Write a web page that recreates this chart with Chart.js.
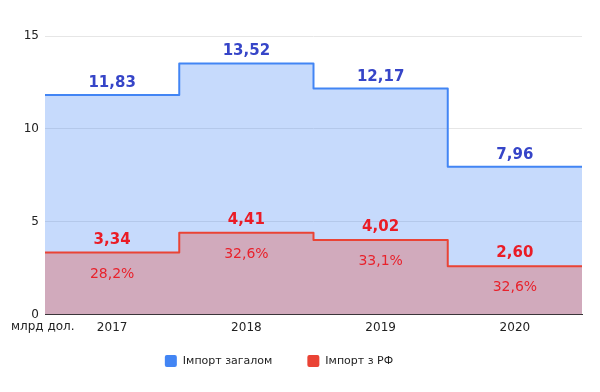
<!DOCTYPE html>
<html><head><meta charset="utf-8">
<script src="https://cdn.jsdelivr.net/npm/chart.js@4.4.0/dist/chart.umd.min.js"></script>
<style>html,body{margin:0;padding:0;background:#fff;}#wrap{width:600px;height:392px;}</style>
</head><body><div id="wrap"><canvas id="c" width="600" height="392"></canvas></div>
<script>
const years = ['2017', '2018', '2019', '2020'];
const importTotal = [11.83, 13.52, 12.17, 7.96];
const importRF = [3.34, 4.41, 4.02, 2.60];
const shareRF = ['28,2%', '32,6%', '33,1%', '32,6%'];
const yTicks = [0, 5, 10, 15];
const unitLabel = 'млрд дол.';
const seriesNames = ['Імпорт загалом', 'Імпорт з РФ'];
const seriesColors = ['#4285f4', '#ea4335'];

function stepPoints(vals) {
  const pts = vals.map((v, i) => ({x: i, y: v}));
  pts.push({x: vals.length, y: vals[vals.length - 1]});
  return pts;
}
const fmt = v => v.toFixed(2).replace('.', ',');

const labelPlugin = {
  id: 'labels',
  afterDatasetsDraw(chart) {
    const ctx = chart.ctx, xs = chart.scales.x, ys = chart.scales.y;
    ctx.save();
    ctx.textAlign = 'center';
    years.forEach((y, i) => {
      const cx = xs.getPixelForValue(i + 0.5);
      ctx.textBaseline = 'alphabetic';
      ctx.font = 'bold 15px "DejaVu Sans"';
      ctx.fillStyle = '#3645c8';
      ctx.fillText(fmt(importTotal[i]), cx, ys.getPixelForValue(importTotal[i]) - 8);
      ctx.fillStyle = '#ea1c26';
      ctx.fillText(fmt(importRF[i]), cx, ys.getPixelForValue(importRF[i]) - 9);
      ctx.font = '14px "DejaVu Sans"';
      ctx.fillStyle = '#e8222c';
      ctx.fillText(shareRF[i], cx, ys.getPixelForValue(importRF[i]) + 25);
    });
    ctx.font = '12px "DejaVu Sans"';
    ctx.fillStyle = '#222';
    ctx.textAlign = 'left';
    ctx.textBaseline = 'middle';
    ctx.fillText(unitLabel, 11, ys.bottom + 12);
    // legend
    ctx.font = '11px "DejaVu Sans"';
    const widths = seriesNames.map(n => ctx.measureText(n).width);
    const box = 12, gapTxt = 6, gapItem = 35;
    const total = widths.reduce((a, w) => a + box + gapTxt + w, 0) + gapItem * (seriesNames.length - 1);
    let x = 279 - total / 2;
    const ly = 361;
    seriesNames.forEach((n, i) => {
      ctx.fillStyle = seriesColors[i];
      ctx.beginPath();
      ctx.roundRect(x, ly - box / 2, box, box, 2);
      ctx.fill();
      ctx.fillStyle = '#222';
      ctx.fillText(n, x + box + gapTxt, ly);
      x += box + gapTxt + widths[i] + gapItem;
    });
    ctx.restore();
  }
};

new Chart(document.getElementById('c'), {
  type: 'line',
  data: {
    datasets: [
      {label: seriesNames[1], data: stepPoints(importRF), stepped: 'before',
       borderColor: seriesColors[1], backgroundColor: 'rgba(234,67,53,0.32)', borderWidth: 2,
       borderJoinStyle: 'round', fill: 'origin', pointRadius: 0, order: 0},
      {label: seriesNames[0], data: stepPoints(importTotal), stepped: 'before',
       borderColor: seriesColors[0], backgroundColor: 'rgba(66,133,244,0.3)', borderWidth: 2,
       borderJoinStyle: 'round', fill: 'origin', pointRadius: 0, order: 1}
    ]
  },
  options: {
    responsive: false, animation: false,
    layout: {padding: {left: 0, right: 18, top: 36, bottom: 51}},
    plugins: {
      legend: {display: false},
      tooltip: {enabled: false}
    },
    scales: {
      x: {type: 'linear', min: 0, max: years.length,
        afterBuildTicks(s) { s.ticks = years.map((y, i) => ({value: i + 0.5})); },
        ticks: {callback: (v) => years[Math.floor(v)], color: '#222', padding: 6, maxRotation: 0,
          font: {family: '"DejaVu Sans"', size: 12}},
        grid: {display: false, drawTicks: false},
        border: {display: true, color: '#333', width: 1}},
      y: {min: 0, max: 15,
        afterBuildTicks(s) { s.ticks = yTicks.map(v => ({value: v})); },
        afterFit(s) { s.width = 45; },
        ticks: {color: '#222', padding: 6, font: {family: '"DejaVu Sans"', size: 12}},
        grid: {color: '#e6e6e6', drawTicks: false},
        border: {display: false}}
    }
  },
  plugins: [labelPlugin]
});
</script></body></html>
